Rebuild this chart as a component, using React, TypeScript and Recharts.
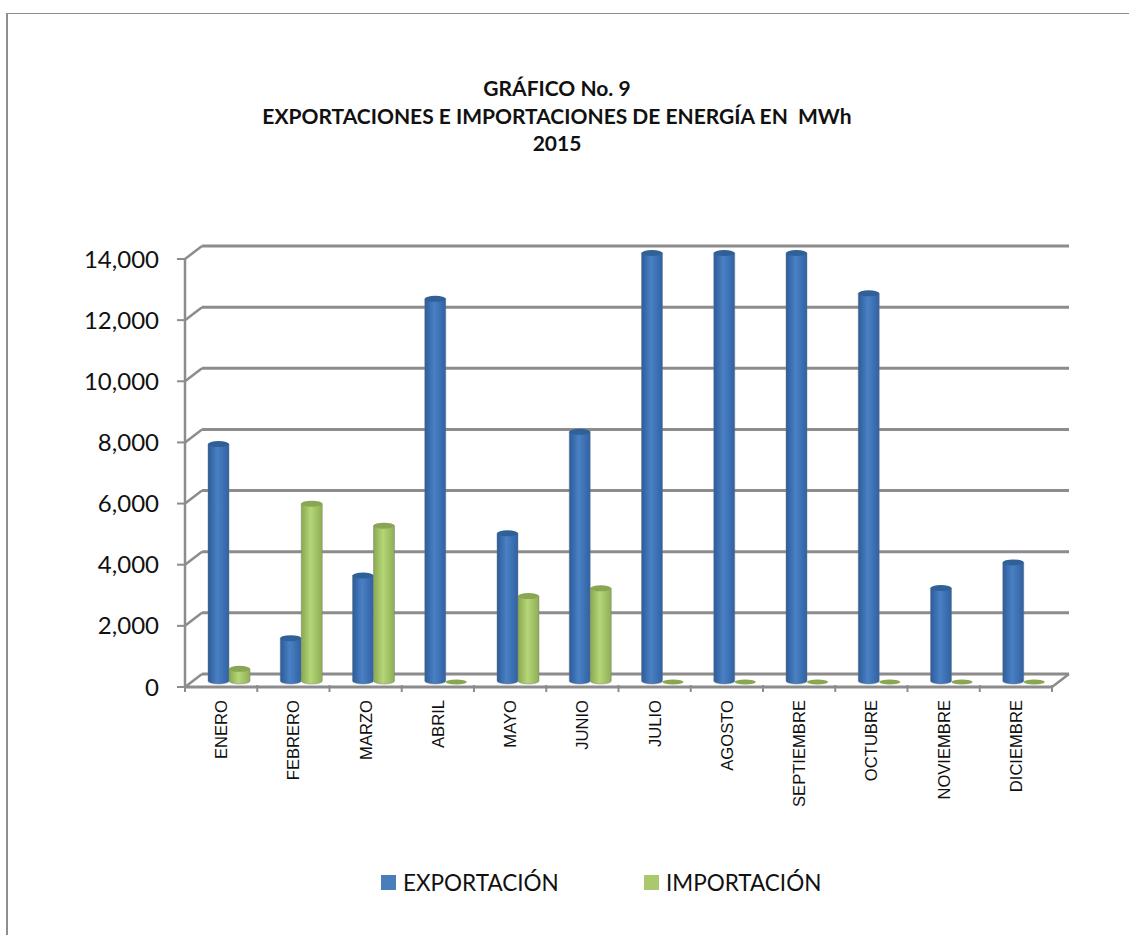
import { BarChart, Bar, XAxis, YAxis, CartesianGrid, Legend } from 'recharts';

const months = ['ENERO', 'FEBRERO', 'MARZO', 'ABRIL', 'MAYO', 'JUNIO', 'JULIO', 'AGOSTO', 'SEPTIEMBRE', 'OCTUBRE', 'NOVIEMBRE', 'DICIEMBRE'];
const exportacion = [7750, 1400, 3450, 12500, 4830, 8150, 14000, 14000, 14000, 12680, 3040, 3880];
const importacion = [400, 5800, 5080, 0, 2780, 3030, 0, 0, 0, 0, 0, 0];
const yTicks = [0, 2000, 4000, 6000, 8000, 10000, 12000, 14000];

const data = months.map((m, i) => ({ mes: m, exportacion: exportacion[i], importacion: importacion[i] }));

const AXIS = '#8c8c8c';
const DX = 17;
const DY = -13;
const BAND = 867 / 12;

// back wall line plus the little diagonal that gives the fake 3D look
function GridLine(props: any) {
  const { x1, x2, y1 } = props;
  return (
    <g>
      <line x1={x1} y1={y1} x2={x1 + DX} y2={y1 + DY} stroke={AXIS} strokeWidth={2.5} />
      <line x1={x1 + DX} y1={y1 + DY} x2={x2 + DX} y2={y1 + DY} stroke={AXIS} strokeWidth={3} />
      {y1 > 680 && (
        <>
          <line x1={x2} y1={y1} x2={x2 + DX} y2={y1 + DY} stroke={AXIS} strokeWidth={2.5} />
          <line x1={x1} y1={y1} x2={x2} y2={y1} stroke={AXIS} strokeWidth={3} />
        </>
      )}
    </g>
  );
}

function Cylinder(props: any) {
  const { x, y, width, height, grad, top, flat } = props;
  const left = x + 8;
  const right = left + width;
  const cx = left + width / 2;
  const rx = width / 2;
  const ry = 3;
  const ty = y - 6;
  const by = ty + height;
  if (height <= 0) {
    return <ellipse cx={cx} cy={by + 1} rx={rx} ry={2.5} fill={flat} />;
  }
  return (
    <g>
      <path
        d={`M${left},${ty} L${left},${by} A${rx},${ry} 0 0 0 ${right},${by} L${right},${ty} Z`}
        fill={`url(#${grad})`}
        stroke="#777"
        strokeOpacity={0.45}
      />
      <ellipse cx={cx} cy={ty} rx={rx} ry={ry} fill={top} />
    </g>
  );
}

function MonthTick(props: any) {
  const { x, y, index, payload } = props;
  const left = x - BAND / 2;
  return (
    <g>
      <line x1={left} y1={685} x2={left} y2={692} stroke={AXIS} strokeWidth={2} />
      {index === months.length - 1 && <line x1={left + BAND} y1={685} x2={left + BAND} y2={692} stroke={AXIS} strokeWidth={2} />}
      <text
        transform={`translate(${x + 6},${y + 5}) rotate(-90)`}
        textAnchor="end"
        fontFamily="Liberation Sans"
        fontSize={16.6}
        fill="#111"
      >
        {payload.value}
      </text>
    </g>
  );
}

function LegendBox() {
  const items = [
    { label: 'EXPORTACIÓN', color: '#4a7ebb', w: 263 },
    { label: 'IMPORTACIÓN', color: '#a9c96c', w: 190 },
  ];
  return (
    <div style={{ display: 'flex', fontFamily: 'Lato', fontSize: 22.5, color: '#111' }}>
      {items.map((it) => (
        <div key={it.label} style={{ display: 'flex', alignItems: 'center', width: it.w }}>
          <span style={{ width: 15, height: 15, background: it.color, marginRight: 7 }} />
          {it.label}
        </div>
      ))}
    </div>
  );
}

export default function App() {
  return (
    <div style={{ position: 'absolute', left: 0, top: 0, width: 1129, height: 935, background: '#fff', overflow: 'hidden' }}>
      {/* frame of the original picture */}
      <div style={{ position: 'absolute', left: 6, top: 13, width: 1140, height: 940, borderLeft: '2px solid #8e8e8e', borderTop: '1px solid #8e8e8e' }} />
      <div
        style={{
          position: 'absolute',
          left: 0,
          width: 1114,
          top: 74,
          textAlign: 'center',
          fontFamily: 'Lato',
          fontWeight: 700,
          fontSize: 21,
          lineHeight: '27.5px',
          color: '#111',
        }}
      >
        <div>GRÁFICO No. 9</div>
        <div style={{ whiteSpace: 'pre' }}>EXPORTACIONES E IMPORTACIONES DE ENERGÍA EN  MWh</div>
        <div>2015</div>
      </div>
      <BarChart
        width={1129}
        height={935}
        data={data}
        margin={{ top: 259, right: 77, bottom: 0, left: 0 }}
        barSize={21}
        barGap={0}
        style={{ position: 'absolute', left: 0, top: 0 }}
      >
        <defs>
          <linearGradient id="gradBlue" x1="0" y1="0" x2="1" y2="0">
            <stop offset="0" stopColor="#2c5c9a" />
            <stop offset="0.45" stopColor="#4a80c4" />
            <stop offset="1" stopColor="#2f62a3" />
          </linearGradient>
          <linearGradient id="gradGreen" x1="0" y1="0" x2="1" y2="0">
            <stop offset="0" stopColor="#8aa84f" />
            <stop offset="0.45" stopColor="#b5d677" />
            <stop offset="1" stopColor="#8eae55" />
          </linearGradient>
        </defs>
        <CartesianGrid vertical={false} horizontal={<GridLine />} />
        {/* the legend reserves its own 34px at the bottom, so 216 + 34 = 250 under the plot */}
        <XAxis dataKey="mes" axisLine={false} tickLine={false} interval={0} height={216} tick={<MonthTick />} />
        <YAxis
          width={185}
          domain={[0, 14000]}
          ticks={yTicks}
          interval={0}
          tickFormatter={(v: number) => v.toLocaleString('en-US')}
          tick={{ fontFamily: 'Lato', fontSize: 24, fill: '#111' }}
          tickSize={8}
          tickMargin={18}
          axisLine={{ stroke: AXIS, strokeWidth: 2.5 }}
          tickLine={{ stroke: AXIS, strokeWidth: 2 }}
        />
        <Legend
          verticalAlign="bottom"
          content={<LegendBox />}
          wrapperStyle={{ position: 'absolute', left: 381, top: 869, width: 460, height: 32, bottom: 'auto' }}
        />
        <Bar
          dataKey="exportacion"
          isAnimationActive={false}
          shape={<Cylinder grad="gradBlue" top="#2f6098" flat="#2f6098" />}
        />
        <Bar
          dataKey="importacion"
          isAnimationActive={false}
          shape={<Cylinder grad="gradGreen" top="#8ba653" flat="#8ba653" />}
        />
      </BarChart>
    </div>
  );
}
